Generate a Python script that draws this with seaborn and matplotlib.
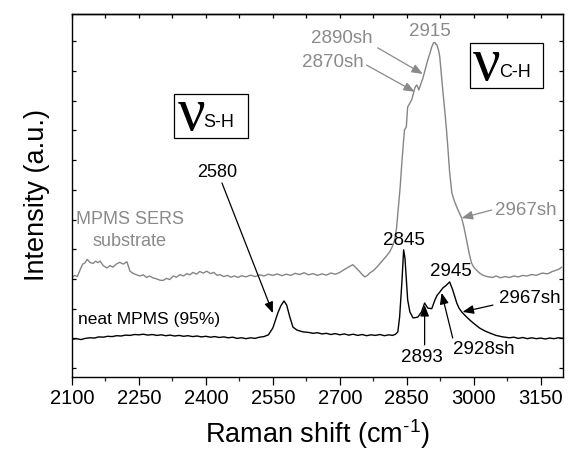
import numpy as np
import pandas as pd
import matplotlib
matplotlib.use("Agg")
import matplotlib.pyplot as plt
from matplotlib.patches import Rectangle
import seaborn as sns

# ---------------- data ----------------
neat_x = [2100, 2110, 2120, 2130, 2140, 2150, 2160, 2170, 2180, 2190, 2200, 2210, 2220, 2230,
          2240, 2250, 2260, 2270, 2280, 2290, 2300, 2310, 2320, 2330, 2340, 2350, 2360, 2370,
          2380, 2390, 2400, 2410, 2420, 2430, 2440, 2450, 2460, 2470, 2480, 2490, 2500, 2510,
          2520, 2530, 2540, 2550, 2561, 2568, 2575, 2581, 2588, 2595, 2604, 2617, 2630, 2640,
          2650, 2660, 2670, 2680, 2690, 2700, 2710, 2720, 2730, 2740, 2750, 2760, 2770, 2780,
          2790, 2800, 2810, 2818, 2825, 2830, 2834, 2839, 2843, 2846, 2849, 2852, 2857, 2864,
          2870, 2875, 2883, 2890, 2897, 2906, 2913, 2918, 2924, 2931, 2938, 2946, 2953, 2962,
          2967, 2973, 2982, 2991, 3002, 3013, 3025, 3036, 3050, 3065, 3080, 3090, 3100, 3110,
          3120, 3130, 3140, 3150, 3160, 3170, 3180, 3190, 3200]
neat_y = [0.97, 0.99, 0.96, 1.00, 1.02, 1.01, 1.05, 1.04, 1.07, 1.06, 1.09, 1.08, 1.11, 1.10,
          1.13, 1.12, 1.14, 1.11, 1.13, 1.10, 1.12, 1.09, 1.11, 1.08, 1.10, 1.07, 1.09, 1.06,
          1.08, 1.05, 1.07, 1.04, 1.06, 1.03, 1.05, 1.02, 1.04, 1.00, 1.02, 0.99, 1.02, 1.00,
          1.04, 1.06, 1.12, 1.35, 1.85, 2.10, 2.26, 2.12, 1.72, 1.38, 1.28, 1.22, 1.20, 1.17,
          1.19, 1.15, 1.17, 1.13, 1.16, 1.12, 1.15, 1.11, 1.14, 1.10, 1.13, 1.09, 1.12, 1.10,
          1.13, 1.09, 1.12, 1.10, 1.14, 1.22, 1.72, 2.87, 3.98, 3.70, 3.00, 2.30, 1.89, 1.69,
          1.70, 1.72, 1.89, 2.19, 2.02, 2.00, 2.29, 2.45, 2.56, 2.70, 2.78, 2.90, 2.63, 2.19,
          2.02, 1.89, 1.75, 1.62, 1.48, 1.35, 1.25, 1.18, 1.10, 1.05, 1.02, 1.04, 1.00, 1.03,
          0.99, 1.02, 0.99, 1.01, 0.98, 1.01, 0.99, 1.02, 1.00]

sers_x = [2100, 2106, 2112, 2118, 2124, 2129, 2134, 2140, 2147, 2153, 2158, 2163, 2170, 2178,
          2185, 2192, 2199, 2207, 2215, 2223, 2230, 2238, 2245, 2252, 2260, 2267, 2274, 2281,
          2290, 2297, 2304, 2312, 2319, 2327, 2334, 2342, 2350, 2357, 2364, 2371, 2379, 2386,
          2394, 2402, 2410, 2418, 2425, 2431, 2440, 2448, 2456, 2464, 2472, 2480, 2490, 2500,
          2510, 2521, 2530, 2540, 2550, 2560, 2570, 2580, 2590, 2600, 2610, 2620, 2630, 2640,
          2650, 2660, 2670, 2680, 2690, 2700, 2708, 2716, 2722, 2729, 2736, 2745, 2750, 2756,
          2762, 2767, 2775, 2783, 2790, 2797, 2805, 2812, 2818, 2823, 2827, 2830, 2835, 2839,
          2842, 2845, 2849, 2852, 2856, 2861, 2865, 2868, 2872, 2875, 2877, 2880, 2883, 2886,
          2890, 2894, 2897, 2902, 2906, 2910, 2913, 2915, 2917, 2919, 2922, 2924, 2926, 2928,
          2931, 2935, 2939, 2942, 2946, 2951, 2956, 2962, 2967, 2973, 2978, 2984, 2990, 2995,
          3000, 3006, 3013, 3020, 3030, 3042, 3050, 3060, 3070, 3080, 3090, 3100, 3110, 3119,
          3130, 3140, 3154, 3165, 3176, 3186, 3192, 3197]
sers_y = [3.05, 3.12, 3.08, 3.30, 3.50, 3.54, 3.66, 3.56, 3.52, 3.60, 3.55, 3.60, 3.45, 3.37,
          3.45, 3.40, 3.50, 3.56, 3.50, 3.58, 3.26, 3.18, 3.14, 3.10, 3.14, 3.05, 3.10, 3.04,
          3.00, 2.96, 2.95, 3.02, 2.98, 3.10, 3.06, 3.15, 3.10, 3.18, 3.14, 3.22, 3.16, 3.25,
          3.20, 3.26, 3.18, 3.22, 3.12, 3.15, 3.08, 3.12, 3.06, 3.10, 3.05, 3.11, 3.07, 3.13,
          3.08, 3.14, 3.10, 3.16, 3.12, 3.17, 3.11, 3.16, 3.12, 3.19, 3.15, 3.21, 3.14, 3.18,
          3.12, 3.17, 3.13, 3.20, 3.16, 3.22, 3.30, 3.37, 3.42, 3.48, 3.38, 3.24, 3.15, 3.07,
          3.12, 3.20, 3.28, 3.40, 3.52, 3.64, 3.78, 3.92, 4.10, 4.31, 4.70, 5.22, 6.05, 6.91,
          7.50, 8.02, 8.12, 8.79, 8.90, 9.03, 9.25, 9.43, 9.53, 9.45, 9.36, 9.50, 9.63, 9.75,
          9.97, 10.20, 10.37, 10.60, 10.81, 10.95, 10.96, 10.90, 10.90, 10.81, 10.65, 10.47, 10.15, 9.80,
          9.30, 8.69, 8.02, 7.44, 6.60, 5.90, 5.65, 5.42, 5.25, 5.05, 4.75, 4.31, 3.85, 3.54,
          3.40, 3.30, 3.20, 3.13, 3.08, 3.05, 3.10, 3.04, 3.08, 3.05, 3.10, 3.07, 3.12, 3.10,
          3.15, 3.12, 3.20, 3.17, 3.25, 3.30, 3.34, 3.40]

x_ticks = [2100, 2250, 2400, 2550, 2700, 2850, 3000, 3150]
x_label = "Raman shift (cm$^{\u2010 1}$)"
y_label = "Intensity (a.u.)"

# ---------------- style ----------------
sns.set_theme(style="ticks")
plt.rcParams["font.family"] = ["Liberation Sans", "DejaVu Sans"]
plt.rcParams["mathtext.fontset"] = "custom"
plt.rcParams["mathtext.rm"] = "Liberation Sans"
plt.rcParams["mathtext.it"] = "Liberation Sans"
plt.rcParams["mathtext.default"] = "regular"
plt.rcParams["axes.edgecolor"] = "black"
plt.rcParams["axes.linewidth"] = 1.0

GRAY = "#8a8a8a"
BLACK = "#000000"

fig = plt.figure(figsize=(5.70, 4.66), dpi=100)
ax = fig.add_axes([0.1263, 0.191, 0.8614, 0.779])

df_neat = pd.DataFrame({"x": neat_x, "y": neat_y})
df_sers = pd.DataFrame({"x": sers_x, "y": sers_y})
sns.lineplot(data=df_sers, x="x", y="y", ax=ax, color="#858585", lw=1.0, estimator=None)
sns.lineplot(data=df_neat, x="x", y="y", ax=ax, color=BLACK, lw=1.0, estimator=None)

ax.set_xlim(2100, 3200)
ax.set_ylim(-0.3, 11.92)
ax.set_xticks(x_ticks)
ax.set_xticks(np.arange(2100, 3201, 75), minor=True)
ax.set_yticks(np.arange(0, 12, 1))
ax.set_yticklabels([])
ax.tick_params(axis="x", which="major", direction="out", length=6, width=0.9,
               labelsize=14.5, pad=3, colors="black", bottom=True)
ax.tick_params(axis="x", which="minor", direction="out", length=3, width=0.9, bottom=True)
ax.tick_params(axis="y", which="major", direction="in", length=3, width=0.9,
               left=True, right=True, colors="black")
sec = ax.secondary_xaxis("top")
sec.set_xticks(np.arange(2100, 3201, 75))
sec.tick_params(direction="in", length=3, width=0.9, labeltop=False, colors="black")
for name, s in ax.spines.items():
    s.set_visible(True)
    s.set_linewidth(1.0)
    s.set_color("black")
    s.set_zorder(10)

ax.set_xlabel(x_label, fontsize=19.5, labelpad=6, color="black")
ax.set_ylabel(y_label, fontsize=19.5, labelpad=12, color="black")

arrow_kw = dict(arrowstyle="-|>,head_length=0.55,head_width=0.22", lw=0.9,
                shrinkA=0, shrinkB=0)

def arrow(start, tip, color):
    ax.annotate("", xy=tip, xytext=start,
                arrowprops=dict(color=color, **arrow_kw))

# gray annotations
ax.text(2901, 11.32, "2915", color=GRAY, fontsize=13.5, ha="center", va="center")
ax.text(2704, 11.08, "2890sh", color=GRAY, fontsize=13.5, ha="center", va="center")
arrow((2785, 10.78), (2886, 9.90), GRAY)
ax.text(2685, 10.27, "2870sh", color=GRAY, fontsize=13.5, ha="center", va="center")
arrow((2760, 10.20), (2868, 9.30), GRAY)
ax.text(3116, 5.32, "2967sh", color=GRAY, fontsize=13.5, ha="center", va="center")
arrow((3040, 5.32), (2973, 5.05), GRAY)
ax.text(2230, 4.99, "MPMS SERS", color=GRAY, fontsize=13, ha="center", va="center")
ax.text(2228, 4.25, "substrate", color=GRAY, fontsize=13, ha="center", va="center")

# black annotations
ax.text(2425, 6.60, "2580", color=BLACK, fontsize=13, ha="center", va="center")
arrow((2436, 6.23), (2550, 1.85), BLACK)
ax.text(2843, 4.31, "2845", color=BLACK, fontsize=13.5, ha="center", va="center")
ax.text(2948, 3.24, "2945", color=BLACK, fontsize=13.5, ha="center", va="center")
ax.text(2113, 1.62, "neat MPMS (95%)", color=BLACK, fontsize=12.5, ha="left", va="center")
ax.text(3125, 2.33, "2967sh", color=BLACK, fontsize=13.5, ha="center", va="center")
arrow((3043, 2.12), (2975, 1.89), BLACK)
ax.text(2884, 0.34, "2893", color=BLACK, fontsize=13.5, ha="center", va="center")
arrow((2890, 0.78), (2890, 2.12), BLACK)
ax.text(3022, 0.64, "2928sh", color=BLACK, fontsize=13.5, ha="center", va="center")
arrow((2953, 1.01), (2928, 2.53), BLACK)

# boxed mode labels
ax.add_patch(Rectangle((0.8106, 0.796), 0.1487, 0.124, transform=ax.transAxes,
                       fill=False, lw=0.9, ec="black", zorder=5))
ax.text(2998, 9.70, "ν", family=["Liberation Serif", "DejaVu Serif"], fontsize=44,
        ha="left", va="baseline", color=BLACK)
ax.text(3058, 9.80, "C-H", fontsize=13, ha="left", va="baseline", color=BLACK)

ax.add_patch(Rectangle((0.2077, 0.658), 0.1508, 0.1216, transform=ax.transAxes,
                       fill=False, lw=0.9, ec="black", zorder=5))
ax.text(2337, 8.02, "ν", family=["Liberation Serif", "DejaVu Serif"], fontsize=44,
        ha="left", va="baseline", color=BLACK)
ax.text(2393, 8.12, "S-H", fontsize=13, ha="left", va="baseline", color=BLACK)

fig.savefig("out.png", dpi=100)
